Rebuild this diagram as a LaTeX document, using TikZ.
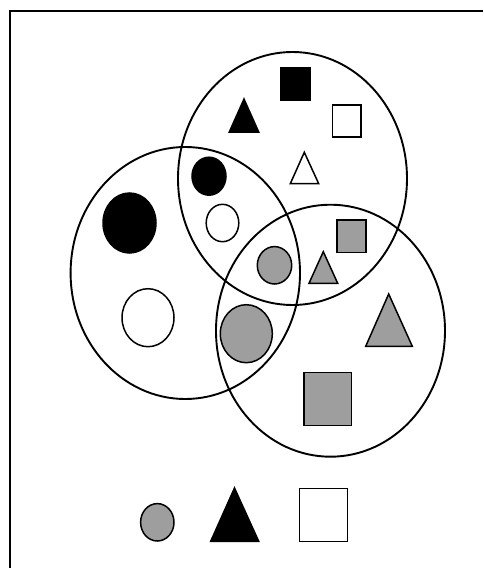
\documentclass[tikz,border=0pt]{standalone}
\definecolor{shapegray}{RGB}{158,158,158}
\tikzset{
  setline/.style={line width=1.9pt},
  shapeline/.style={line width=1.5pt},
  blk/.style={shapeline, fill=black},
  wht/.style={shapeline, fill=white},
  gry/.style={shapeline, fill=shapegray},
}
\begin{document}
\begin{tikzpicture}[x=1pt,y=-1pt,line join=miter]
\useasboundingbox (0,0) rectangle (483,568);
% frame
\draw[line width=2.2pt] (483,11) -- (10,11) -- (10,569);
% sets
\draw[setline] (292.5,178.5) ellipse [x radius=114.5, y radius=126.5];
\draw[setline] (185.3,273) ellipse [x radius=114.7, y radius=126];
\draw[setline] (330.5,330.7) ellipse [x radius=114.5, y radius=126];
% top set only
\draw[blk] (280.7,67.7) rectangle (310.7,100.7);
\draw[blk] (244,99) -- (258.7,132) -- (229.3,132) -- cycle;
\draw[wht] (332.3,105) rectangle (361,137);
\draw[wht] (304.3,152.3) -- (318.7,183.7) -- (290.3,183.7) -- cycle;
% top & left
\draw[blk] (209,176.2) ellipse [x radius=17, y radius=19];
\draw[wht] (222.5,223) ellipse [x radius=16.3, y radius=18.7];
% left only
\draw[blk] (129.5,223) ellipse [x radius=26.5, y radius=30];
\draw[wht] (148,317.7) ellipse [x radius=26, y radius=29];
% top & right
\draw[gry] (337,220) rectangle (366,252.7);
\draw[gry] (323.3,251.7) -- (337.7,283.3) -- (309,283.3) -- cycle;
% all three
\draw[gry] (274.5,265.3) ellipse [x radius=17.2, y radius=18.7];
% left & right
\draw[gry] (246.3,333.7) ellipse [x radius=26, y radius=29];
% right only
\draw[gry] (388.7,294) -- (412.3,346.3) -- (365.7,346.3) -- cycle;
\draw[gry] (304,372.7) rectangle (351.7,425.7);
% legend
\draw[gry] (157.3,522.3) ellipse [x radius=16.7, y radius=18.7];
\draw[blk] (234.5,488) -- (258.7,541.3) -- (210.7,541.3) -- cycle;
\draw[wht] (299.7,488.3) rectangle (347.3,541.3);
\end{tikzpicture}
\end{document}
